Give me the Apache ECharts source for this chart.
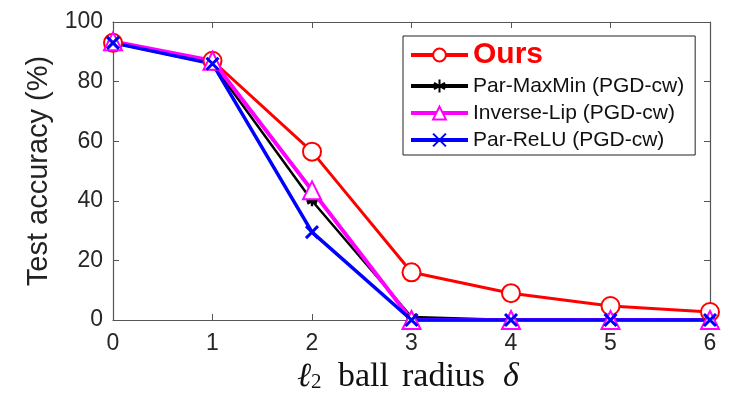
<!DOCTYPE html>
<html>
<head>
<meta charset="utf-8">
<script src="https://cdn.jsdelivr.net/npm/echarts@6/dist/echarts.min.js"></script>
<style>html,body{margin:0;padding:0;background:#fff;}#c{width:733px;height:399px;}</style>
</head>
<body>
<div id="c"></div>
<script>
const radius = [0, 1, 2, 3, 4, 5, 6];
const ours = [93, 87, 56.5, 16, 9, 4.7, 2.7];
const parMaxMin = [93, 86, 40, 1, 0, 0, 0];
const inverseLip = [93.5, 87, 43.5, 0, 0, 0, 0];
const parReLU = [93, 86, 29.5, 0, 0, 0, 0];
const yTicks = [0, 20, 40, 60, 80, 100];
const seriesNames = ['Ours', 'Par-MaxMin (PGD-cw)', 'Inverse-Lip (PGD-cw)', 'Par-ReLU (PGD-cw)'];

const pairs = arr => radius.map((x, i) => [x, arr[i]]);
const axisColor = '#555';
const labelColor = '#262626';
const asterisk = 'path://M0,-10L0,10M-8.66,-5L8.66,5M-8.66,5L8.66,-5M-10,0L10,0';
const cross = 'path://M-10,-10L10,10M-10,10L10,-10';
const serif = 'Liberation Serif';

const chart = echarts.init(document.getElementById('c'));
chart.setOption({
  animation: false,
  backgroundColor: '#fff',
  grid: { left: 113, right: 23, top: 22, bottom: 79 },
  legend: {
    orient: 'vertical',
    left: 403, top: 36,
    padding: [3, 11, 3, 6],
    itemGap: 3,
    itemWidth: 57,
    itemHeight: 16,
    borderColor: '#222', borderWidth: 1,
    backgroundColor: '#fff',
    lineStyle: { width: 4 },
    textStyle: { fontFamily: 'Liberation Sans', fontSize: 21, color: '#111', lineHeight: 24 },
    data: [
      { name: seriesNames[0], textStyle: { fontFamily: 'Liberation Sans', fontSize: 30, fontWeight: 'bold', color: '#ff0000', lineHeight: 32 } },
      { name: seriesNames[1] },
      { name: seriesNames[2] },
      { name: seriesNames[3] }
    ]
  },
  xAxis: [{
    type: 'value', min: 0, max: 6, interval: 1,
    name: '{l|ℓ}{s|2}{w1|ball}{w2|radius}{d|δ}',
    nameLocation: 'middle', nameGap: 36,
    nameTextStyle: {
      fontFamily: serif, fontSize: 34, color: '#111',
      rich: {
        l: { fontFamily: serif, fontStyle: 'italic', fontSize: 34, color: '#111', width: 14, align: 'left' },
        s: { fontFamily: serif, fontSize: 21, color: '#111', padding: [12, 0, 0, 0], width: 27, align: 'left' },
        w1: { fontFamily: serif, fontSize: 34, color: '#111', width: 64, align: 'left' },
        w2: { fontFamily: serif, fontSize: 34, color: '#111', width: 101, align: 'left' },
        d: { fontFamily: serif, fontStyle: 'italic', fontSize: 34, color: '#111', width: 23, align: 'left' }
      }
    },
    axisLine: { show: true, lineStyle: { color: axisColor, width: 1.2 } },
    axisTick: { show: true, inside: true, length: 6, lineStyle: { color: axisColor } },
    axisLabel: { fontFamily: 'Liberation Sans', fontSize: 23, color: labelColor, margin: 12 },
    splitLine: { show: false }
  }, {
    type: 'value', min: 0, max: 6, interval: 1, position: 'top',
    axisLine: { show: true, onZero: false, lineStyle: { color: axisColor, width: 1.2 } },
    axisTick: { show: true, inside: true, length: 6, lineStyle: { color: axisColor } },
    axisLabel: { show: false },
    splitLine: { show: false }
  }],
  yAxis: [{
    type: 'value', min: 0, max: 100, interval: 20,
    name: 'Test accuracy (%)',
    nameLocation: 'middle', nameGap: 60,
    nameTextStyle: { fontFamily: 'Liberation Sans', fontSize: 29, color: '#222' },
    axisLine: { show: true, lineStyle: { color: axisColor, width: 1.2 } },
    axisTick: { show: true, inside: true, length: 6, lineStyle: { color: axisColor } },
    axisLabel: { fontFamily: 'Liberation Sans', fontSize: 23, color: labelColor, margin: 10,
      formatter: v => yTicks.includes(v) ? String(v) : '' },
    splitLine: { show: false }
  }, {
    type: 'value', min: 0, max: 100, interval: 20, position: 'right',
    axisLine: { show: true, onZero: false, lineStyle: { color: axisColor, width: 1.2 } },
    axisTick: { show: true, inside: true, length: 6, lineStyle: { color: axisColor } },
    axisLabel: { show: false },
    splitLine: { show: false }
  }],
  series: [
    {
      name: seriesNames[0], type: 'line', data: pairs(ours),
      symbol: 'emptyCircle', symbolSize: 18,
      lineStyle: { color: '#ff0000', width: 3 },
      itemStyle: { color: '#ff0000', borderColor: '#ff0000', borderWidth: 2.5 }
    },
    {
      name: seriesNames[1], type: 'line', data: pairs(parMaxMin),
      symbol: asterisk, symbolSize: 11,
      lineStyle: { color: '#000', width: 2.5 },
      itemStyle: { color: '#000', borderColor: '#000', borderWidth: 2.5 }
    },
    {
      name: seriesNames[2], type: 'line', data: pairs(inverseLip),
      symbol: 'emptyTriangle', symbolSize: 18,
      lineStyle: { color: '#ff00ff', width: 4 },
      itemStyle: { color: '#ff00ff', borderColor: '#ff00ff', borderWidth: 3 }
    },
    {
      name: seriesNames[3], type: 'line', data: pairs(parReLU),
      symbol: cross, symbolSize: 12,
      lineStyle: { color: '#0000ff', width: 3.5 },
      itemStyle: { color: '#0000ff', borderColor: '#0000ff', borderWidth: 3 }
    }
  ]
});
</script>
</body>
</html>
